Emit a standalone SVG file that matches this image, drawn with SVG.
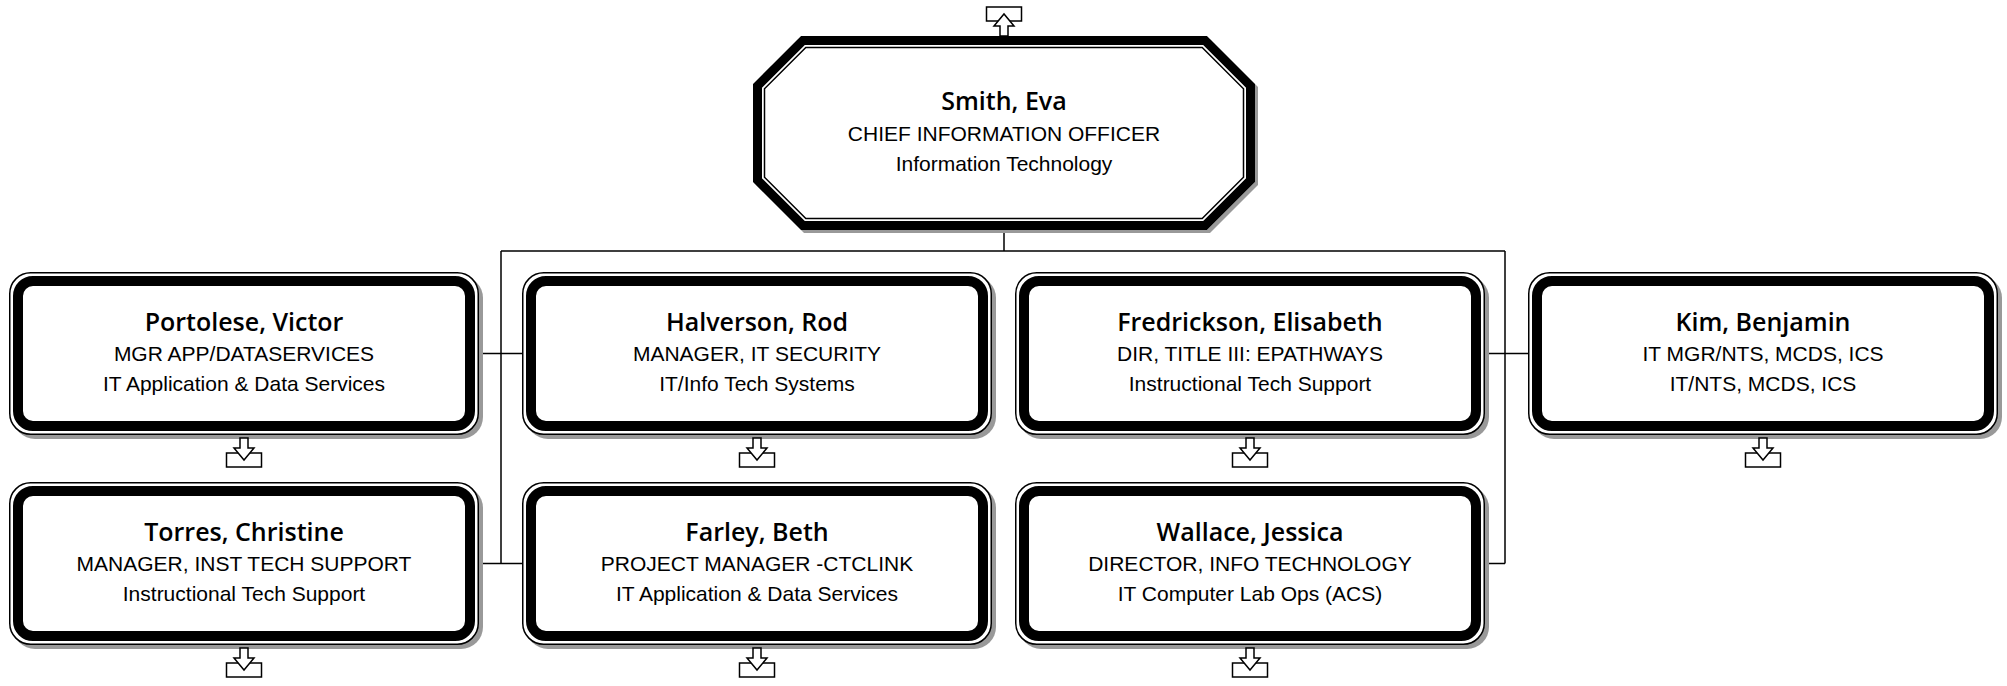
<svg xmlns="http://www.w3.org/2000/svg" xmlns:xlink="http://www.w3.org/1999/xlink" width="2007" height="686" viewBox="0 0 2007 686">
<style>
.shadow{fill:#999999;stroke:none}
.bo{fill:#ffffff;stroke:#000;stroke-width:1.5}
.bt{fill:none;stroke:#000;stroke-width:10}
.ot{fill:none;stroke:#000;stroke-width:9;stroke-linejoin:miter}
.oi{fill:#ffffff;stroke:#000;stroke-width:1.5}
.nm{font-family:"Open Sans","DejaVu Sans",sans-serif;font-weight:600;font-size:25px;text-anchor:middle;fill:#000}
.tx{font-family:"Liberation Sans",Arial,sans-serif;font-size:21px;text-anchor:middle;fill:#000}
.ln{fill:none;stroke:#000;stroke-width:1.5}
.ic{fill:#fff;stroke:#000;stroke-width:1.5;stroke-linejoin:miter}
</style>
<defs>
<g id="dl">
<rect class="ic" x="-17.5" y="15" width="35" height="14"/>
<polygon class="ic" points="-4,0 4,0 4,10 10,10 0,22 -10,10 -4,10"/>
</g>
<g id="box">
<rect class="shadow" x="4" y="4" width="470" height="163" rx="22"/>
<rect class="bo" x="0.75" y="0.75" width="468.5" height="161.5" rx="21"/>
<rect class="bt" x="9" y="9" width="452" height="145" rx="15"/>
</g>
</defs>
<rect width="2007" height="686" fill="#fff"/>
<g id="connectors">
<path class="ln" d="M1004,230 V251 M501,251 H1505 M501,251 V563.5 M1505,251 V563.5 M479,353.5 H522 M1485,353.5 H1528 M479,563.5 H522 M1485,563.5 H1505"/>
</g>
<g id="smith">
<use xlink:href="#dl" transform="translate(1004,36) scale(1,-1)"/>
<polygon class="shadow" points="804,39 1210,39 1258,87 1258,185 1210,233 804,233 756,185 756,87"/>
<polygon fill="#fff" points="801,36 1207,36 1255,84 1255,182 1207,230 801,230 753,182 753,84"/>
<polygon class="ot" points="802.9,40.5 1205.1,40.5 1250.5,85.9 1250.5,180.1 1205.1,225.5 802.9,225.5 757.5,180.1 757.5,85.9"/>
<polygon class="oi" points="805.8,47.5 1202.2,47.5 1243.5,88.8 1243.5,177.2 1202.2,218.5 805.8,218.5 764.5,177.2 764.5,88.8"/>
<text class="nm" x="1004" y="110">Smith, Eva</text>
<text class="tx" x="1004" y="141">CHIEF INFORMATION OFFICER</text>
<text class="tx" x="1004" y="171">Information Technology</text>
</g>
<g id="portolese">
<use xlink:href="#box" x="9" y="272"/>
<use xlink:href="#dl" x="244" y="438"/>
<text class="nm" x="244" y="331">Portolese, Victor</text>
<text class="tx" x="244" y="361">MGR APP/DATASERVICES</text>
<text class="tx" x="244" y="391">IT Application &amp; Data Services</text>
</g>
<g id="halverson">
<use xlink:href="#box" x="522" y="272"/>
<use xlink:href="#dl" x="757" y="438"/>
<text class="nm" x="757" y="331">Halverson, Rod</text>
<text class="tx" x="757" y="361">MANAGER, IT SECURITY</text>
<text class="tx" x="757" y="391">IT/Info Tech Systems</text>
</g>
<g id="fredrickson">
<use xlink:href="#box" x="1015" y="272"/>
<use xlink:href="#dl" x="1250" y="438"/>
<text class="nm" x="1250" y="331">Fredrickson, Elisabeth</text>
<text class="tx" x="1250" y="361">DIR, TITLE III: EPATHWAYS</text>
<text class="tx" x="1250" y="391">Instructional Tech Support</text>
</g>
<g id="kim">
<use xlink:href="#box" x="1528" y="272"/>
<use xlink:href="#dl" x="1763" y="438"/>
<text class="nm" x="1763" y="331">Kim, Benjamin</text>
<text class="tx" x="1763" y="361">IT MGR/NTS, MCDS, ICS</text>
<text class="tx" x="1763" y="391">IT/NTS, MCDS, ICS</text>
</g>
<g id="torres">
<use xlink:href="#box" x="9" y="482"/>
<use xlink:href="#dl" x="244" y="648"/>
<text class="nm" x="244" y="541">Torres, Christine</text>
<text class="tx" x="244" y="571">MANAGER, INST TECH SUPPORT</text>
<text class="tx" x="244" y="601">Instructional Tech Support</text>
</g>
<g id="farley">
<use xlink:href="#box" x="522" y="482"/>
<use xlink:href="#dl" x="757" y="648"/>
<text class="nm" x="757" y="541">Farley, Beth</text>
<text class="tx" x="757" y="571">PROJECT MANAGER -CTCLINK</text>
<text class="tx" x="757" y="601">IT Application &amp; Data Services</text>
</g>
<g id="wallace">
<use xlink:href="#box" x="1015" y="482"/>
<use xlink:href="#dl" x="1250" y="648"/>
<text class="nm" x="1250" y="541">Wallace, Jessica</text>
<text class="tx" x="1250" y="571">DIRECTOR, INFO TECHNOLOGY</text>
<text class="tx" x="1250" y="601">IT Computer Lab Ops (ACS)</text>
</g>
</svg>
